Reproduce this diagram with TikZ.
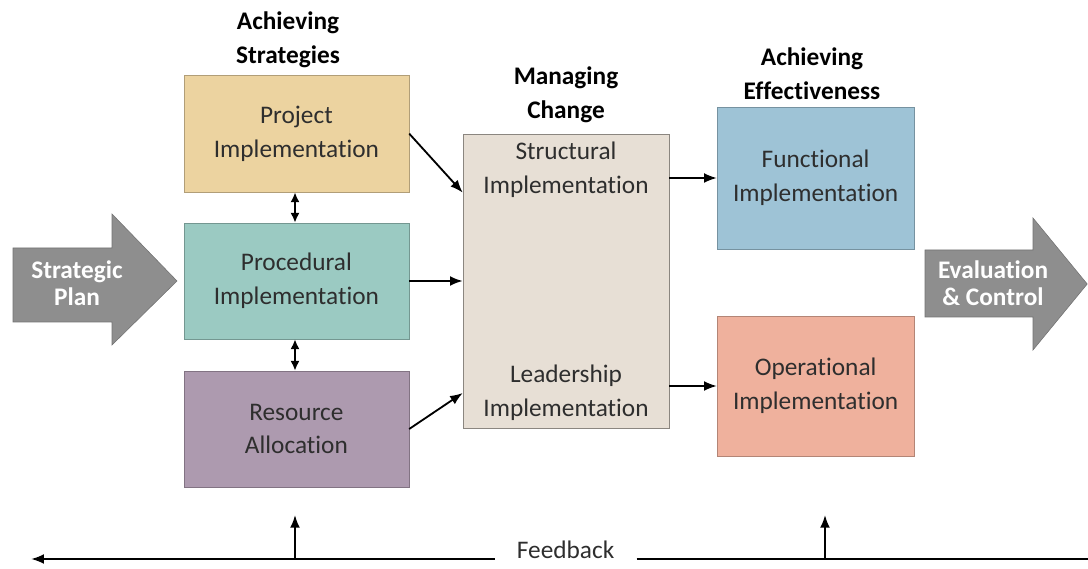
\documentclass[tikz,border=0pt]{standalone}
\usepackage{fontspec}
\setmainfont{Carlito}[Ligatures=NoCommon]
\usetikzlibrary{arrows.meta,calc}
\definecolor{projcol}{HTML}{ECD3A0}
\definecolor{proccol}{HTML}{9BCAC2}
\definecolor{rescol}{HTML}{AD9AAF}
\definecolor{chgcol}{HTML}{E7DFD5}
\definecolor{funccol}{HTML}{9EC3D6}
\definecolor{opercol}{HTML}{EFB19D}
\definecolor{arrcol}{HTML}{8E8E8E}
\definecolor{txtcol}{HTML}{2E2E2E}
\newcommand{\boxfont}{\fontsize{18}{24}\selectfont}
\begin{document}
\begin{tikzpicture}[
  box/.style={draw=#1!75!black, fill=#1, line width=0.4pt, align=center,
    text=txtcol, font=\boxfont, minimum width=5.625cm, minimum height=2.9cm},
  head/.style={align=center, text=black, font=\boxfont\bfseries},
  bigarrow/.style={fill=arrcol, draw=arrcol!80!black, line width=0.4pt},
  arrtext/.style={align=center, text=white, font=\fontsize{18}{19}\selectfont\bfseries},
  conn/.style={-{Latex[length=9pt,width=7pt]}, line width=1.3pt},
  dconn/.style={{Latex[length=7pt,width=6.5pt]}-{Latex[length=7pt,width=6.5pt]}, line width=1.3pt}
]
\useasboundingbox (0,0) rectangle (27.2,14.2);

% headings
\node[head] (hstrat) at (7.2, 13.2) {Achieving\\Strategies};
\node[head] (hchg) at (14.15, 11.825) {Managing\\Change};
\node[head] (heff) at (20.3, 12.35) {Achieving\\Effectiveness};

% big arrows
\fill[bigarrow] (0.325,8.0) -- (2.8,8.0) -- (2.8,8.85) -- (4.425,7.175)
  -- (2.8,5.575) -- (2.8,6.15) -- (0.325,6.15) -- cycle;
\node[arrtext] (plan) at (1.925, 7.125) {Strategic\\Plan};
\fill[bigarrow] (23.125,7.95) -- (25.825,7.95) -- (25.825,8.75) -- (27.18,7.1)
  -- (25.825,5.45) -- (25.825,6.275) -- (23.125,6.275) -- cycle;
\node[arrtext] (eval) at (24.825, 7.125) {Evaluation\\\&~Control};

% boxes
\node[box=projcol, minimum height=2.925cm] (proj) at (7.41, 10.86) {Project\\Implementation};
\node[box=proccol] (proc) at (7.41, 7.175) {Procedural\\Implementation};
\node[box=rescol] (res) at (7.41, 3.475) {Resource\\Allocation};
\node[box=chgcol, draw=chgcol!60!black, minimum width=5.15cm, minimum height=7.35cm]
  (chg) at (14.15, 7.175) {};
\node[align=center, text=txtcol, font=\boxfont] (struct) at (14.15, 9.95) {Structural\\Implementation};
\node[align=center, text=txtcol, font=\boxfont] (lead) at (14.15, 4.375) {Leadership\\Implementation};
\node[box=funccol, minimum width=4.925cm, minimum height=3.55cm] (func) at (20.39, 9.75) {Functional\\Implementation};
\node[box=opercol, minimum width=4.925cm, minimum height=3.5cm] (oper) at (20.39, 4.55) {Operational\\Implementation};

% feedback
\node[text=txtcol, font=\boxfont, inner xsep=0.55cm] (fb) at (14.14, 0.45) {Feedback};
\coordinate (fbl) at (0.78, 0.225);
\coordinate (fbr) at (27.2, 0.225);
\coordinate (up1) at (7.375, 0.225);
\coordinate (up1t) at (7.375, 1.325);
\coordinate (up2) at (20.625, 0.225);
\coordinate (up2t) at (20.625, 1.325);

% arrows
\draw[dconn] (proj.south -| up1) -- (proc.north -| up1);
\draw[dconn] (proc.south -| up1) -- (res.north -| up1);
\draw[conn] (proj.east) -- ($(chg.north west)!0.2!(chg.south west)$);
\draw[conn] (proc.east) -- (chg.west);
\draw[conn] (res.east) -- (chg.west |- lead);
\draw[conn] (chg.east |- func) -- (func.west);
\draw[conn] (chg.east |- oper) -- (oper.west);
\draw[conn] (fb.west |- fbl) -- (fbl);
\draw[line width=1.3pt] (fb.east |- fbr) -- (fbr);
\draw[conn] (up1) -- (up1t);
\draw[conn] (up2) -- (up2t);
\end{tikzpicture}
\end{document}
